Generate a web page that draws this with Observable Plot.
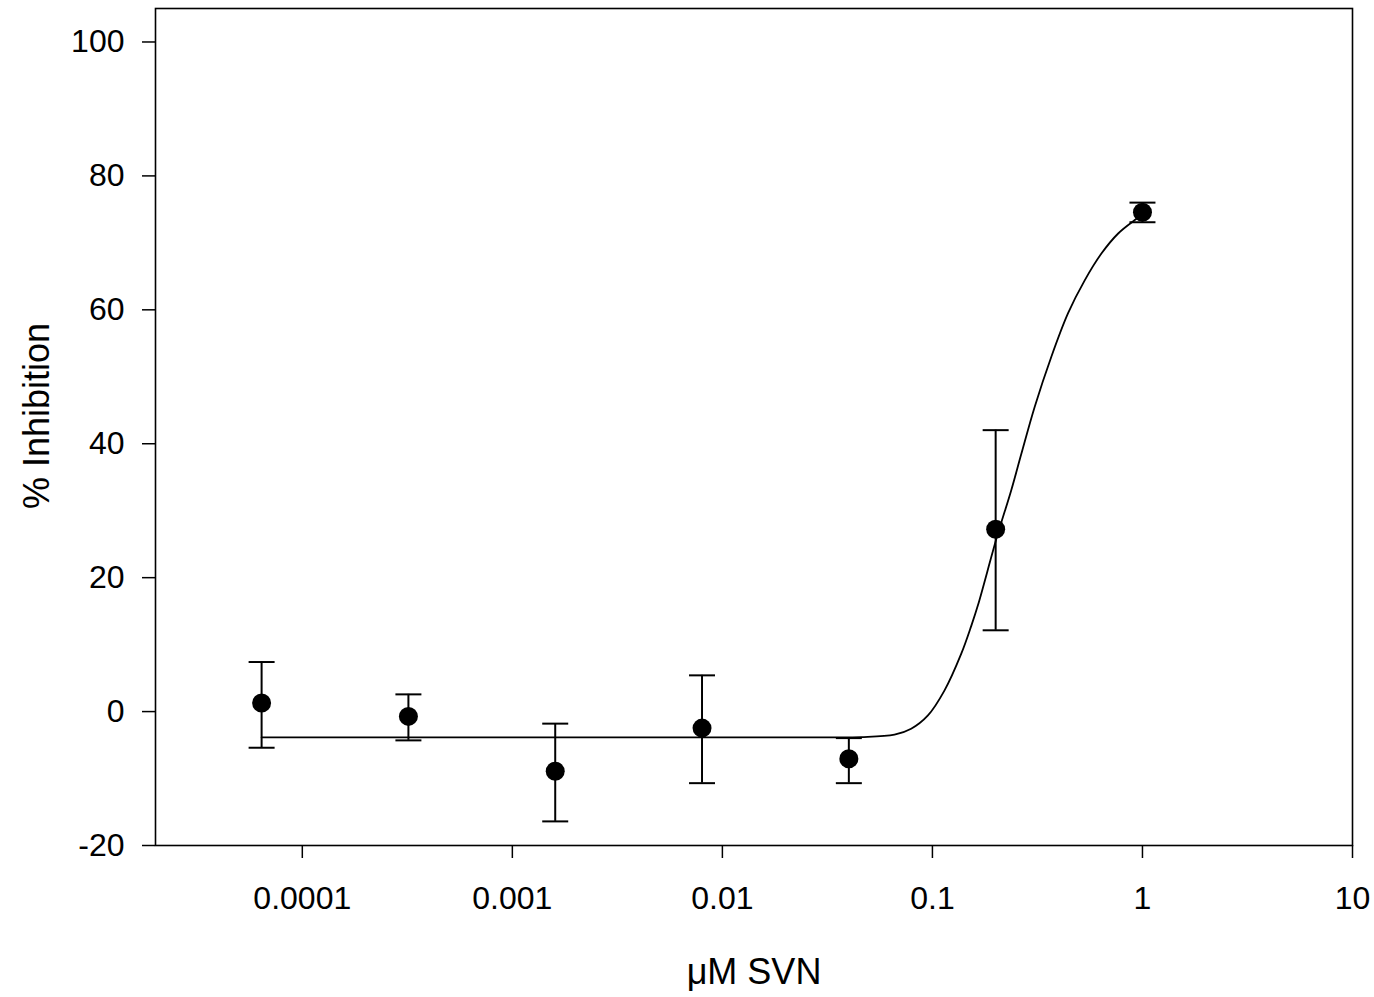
<!DOCTYPE html>
<html>
<head>
<meta charset="utf-8">
<script src="https://cdn.jsdelivr.net/npm/d3@7"></script>
<script src="https://cdn.jsdelivr.net/npm/@observablehq/plot@0.6"></script>
<style>
  html, body { margin: 0; padding: 0; background: #fff; }
</style>
</head>
<body>
<div id="chart"></div>
<script>
// Concentrations (µM SVN), 5-fold dilution series
const conc = [0.000064, 0.00032, 0.0016, 0.008, 0.04, 0.2, 1];
// Mean % inhibition and error bar ends
const meanVal = [1.27, -0.72, -8.9, -2.47, -7.04, 27.23, 74.57];
const hiVal   = [7.4, 2.57, -1.8, 5.41, -3.96, 42.03, 76.01];
const loVal   = [-5.4, -4.30, -16.4, -10.69, -10.69, 12.14, 73.08];

// Fitted curve
const curveX = [0.000064, 0.001, 0.01, 0.03, 0.0458, 0.066, 0.0792, 0.0952, 0.1142, 0.1372, 0.1531, 0.1648, 0.2029, 0.2375, 0.2651, 0.3067, 0.3683, 0.4424, 0.5309, 0.6375, 0.7661, 0.919, 1];
const curveY = [-3.86, -3.86, -3.86, -3.85, -3.81, -3.45, -2.56, -0.57, 3.17, 8.65, 12.8, 15.9, 26.1, 33.1, 38.5, 45.5, 53.0, 59.5, 64.4, 68.4, 71.4, 73.4, 74.2];

const xTicks = [0.0001, 0.001, 0.01, 0.1, 1, 10];
const yTicks = [-20, 0, 20, 40, 60, 80, 100];
const xTitle = "μM SVN";
const yTitle = "% Inhibition";

const points = conc.map((c, i) => ({x: c, mean: meanVal[i], hi: hiVal[i], lo: loVal[i]}));
const curve = curveX.map((c, i) => ({x: c, y: curveY[i]}));

const capSymbol = {
  draw(context, size) {
    const w = Math.sqrt(size / Math.PI);
    context.moveTo(-w, 0);
    context.lineTo(w, 0);
  }
};

const font = "'Liberation Sans', Arial, Helvetica, sans-serif";

const chart = Plot.plot({
  width: 1374,
  height: 997,
  marginLeft: 155,
  marginRight: 22,
  marginTop: 8,
  marginBottom: 152,
  style: {fontFamily: font, fontSize: "32px", background: "white", color: "black"},
  x: {type: "log", domain: [2e-5, 10]},
  y: {domain: [-20, 105]},
  marks: [
    Plot.axisY({ticks: yTicks, tickSize: 13, tickPadding: 18, label: null, fontSize: 32, strokeWidth: 1.5, tickFormat: d => String(d)}),
    Plot.axisX({ticks: xTicks, tickSize: 13, tickPadding: 28, label: null, fontSize: 32, strokeWidth: 1.5, tickFormat: d => String(d)}),
    Plot.frame({stroke: "black", strokeWidth: 1.6}),
    Plot.line(curve, {x: "x", y: "y", curve: "catmull-rom", stroke: "black", strokeWidth: 1.8}),
    Plot.ruleX(points, {x: "x", y1: "lo", y2: "hi", stroke: "black", strokeWidth: 2}),
    Plot.dot(points, {x: "x", y: "hi", symbol: capSymbol, r: 13, stroke: "black", fill: "none", strokeWidth: 2}),
    Plot.dot(points, {x: "x", y: "lo", symbol: capSymbol, r: 13, stroke: "black", fill: "none", strokeWidth: 2}),
    Plot.dot(points, {x: "x", y: "mean", r: 9.5, fill: "black", stroke: "none"}),
    Plot.text([yTitle], {frameAnchor: "left", textAnchor: "middle", lineAnchor: "middle", rotate: -90, dx: -118, dy: -11, fontSize: 36, fill: "black"}),
    Plot.text([xTitle], {frameAnchor: "bottom", textAnchor: "middle", dy: 138, fontSize: 36, fill: "black"})
  ]
});
document.getElementById("chart").appendChild(chart);
</script>
</body>
</html>
